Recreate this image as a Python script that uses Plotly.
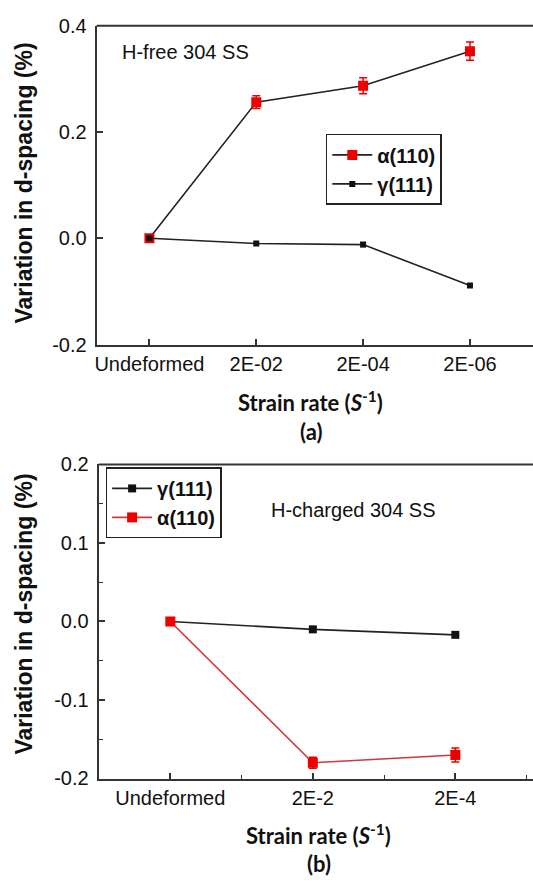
import plotly.graph_objects as go

# ---- data ----
cats_a = ["Undeformed", "2E-02", "2E-04", "2E-06"]
alpha_a = [0.0, 0.256, 0.287, 0.352]
alpha_a_err = [0.0, 0.012, 0.015, 0.017]
gamma_a = [0.0, -0.010, -0.012, -0.089]
gamma_a_err = [0.0, 0.0, 0.004, 0.0]

cats_b = ["Undeformed", "2E-2", "2E-4"]
gamma_b = [0.0, -0.010, -0.017]
alpha_b = [0.0, -0.180, -0.170]
alpha_b_err = [0.0, 0.007, 0.009]

W, H = 533, 888
RED = "#ee0000"
DARK = "#222222"
LINERED = "#cc3a3a"
SANS = "Arial"
TICKFONT = dict(family=SANS, size=20, color="#111")

xa = list(range(len(cats_a)))
xb = list(range(len(cats_b)))

fig = go.Figure()

# top panel
fig.add_trace(go.Scatter(
    x=xa, y=alpha_a, mode="lines+markers", name="<b>α(110)</b>",
    line=dict(color=DARK, width=1.6),
    marker=dict(symbol="square", size=10, color=RED),
    error_y=dict(type="data", array=alpha_a_err, color=RED, thickness=1.5, width=4),
    xaxis="x", yaxis="y", legend="legend", legendrank=1))
fig.add_trace(go.Scatter(
    x=xa, y=gamma_a, mode="lines+markers", name="<b>γ(111)</b>",
    line=dict(color=DARK, width=1.6),
    marker=dict(symbol="square", size=6, color="#111"),
    error_y=dict(type="data", array=gamma_a_err, color="#111", thickness=1.2, width=3),
    xaxis="x", yaxis="y", legend="legend", legendrank=2))

# bottom panel
fig.add_trace(go.Scatter(
    x=xb, y=gamma_b, mode="lines+markers", name="<b>γ(111)</b>",
    line=dict(color=DARK, width=1.6),
    marker=dict(symbol="square", size=8, color="#111"),
    xaxis="x2", yaxis="y2", legend="legend2"))
fig.add_trace(go.Scatter(
    x=xb, y=alpha_b, mode="lines+markers", name="<b>α(110)</b>",
    line=dict(color=LINERED, width=1.6),
    marker=dict(symbol="square", size=10, color=RED),
    error_y=dict(type="data", array=alpha_b_err, color=RED, thickness=1.5, width=4),
    xaxis="x2", yaxis="y2", legend="legend2"))

axis_common = dict(showline=True, linecolor="#333", linewidth=2, mirror=False,
                   ticks="inside", ticklen=6, tickwidth=1.5, tickcolor="#333",
                   showgrid=False, zeroline=False, tickfont=TICKFONT)

def ydom(top_px, bot_px):
    return [1 - bot_px / H, 1 - top_px / H]

LEGFONT = dict(family=SANS, size=20, color="#111")

fig.update_layout(
    width=W, height=H, margin=dict(l=0, r=0, t=0, b=0),
    paper_bgcolor="white", plot_bgcolor="white",
    xaxis=dict(domain=[95 / W, 1], range=[-0.494, 3.59], tickvals=xa, ticktext=cats_a,
               anchor="y", **axis_common),
    yaxis=dict(domain=ydom(15, 342), range=[-0.2, 0.4], tickvals=[-0.2, 0.0, 0.2, 0.4],
               ticktext=["-0.2", "0.0", "0.2", "0.4"], anchor="x",
               ticklabelstandoff=4, **axis_common),
    xaxis2=dict(domain=[97 / W, 1], range=[-0.503, 2.545], tickvals=xb, ticktext=cats_b,
                anchor="y2", minor=dict(ticks="inside", ticklen=4, dtick=0.5, tick0=0.5,
                                        tickcolor="#333", tickwidth=1.2),
                **axis_common),
    yaxis2=dict(domain=ydom(465, 787), range=[-0.2, 0.2],
                tickvals=[-0.2, -0.1, 0.0, 0.1, 0.2],
                ticktext=["-0.2", "-0.1", "0.0", "0.1", "0.2"], anchor="x2",
                ticklabelstandoff=4,
                minor=dict(ticks="inside", ticklen=4, dtick=0.05, tick0=0.05,
                           tickcolor="#333", tickwidth=1.2),
                **axis_common),
    legend=dict(x=325 / W, y=1 - 126 / H, xanchor="left", yanchor="top",
                bordercolor="#222", borderwidth=1.5, bgcolor="white",
                font=LEGFONT, tracegroupgap=0, itemwidth=40),
    legend2=dict(x=104 / W, y=1 - 468 / H, xanchor="left", yanchor="top",
                 bordercolor="#222", borderwidth=1.5, bgcolor="white",
                 font=LEGFONT, tracegroupgap=0, itemwidth=40),
    showlegend=True,
)

# top line (mirror only on top)
for xr, yr in (("x", "y"), ("x2", "y2")):
    fig.add_shape(type="line", xref=f"{xr} domain", yref=f"{yr} domain",
                  x0=0, x1=1, y0=1, y1=1, line=dict(color="#333", width=2))

TITLE_FONT = dict(family=SANS, size=23, color="#111")
XT_FONT = dict(family="Lato", size=22, color="#111")
LBL_FONT = dict(family="Lato", size=22, color="#111")

ann = []
ann.append(dict(text="<b>Variation in d-spacing (%)</b>", x=22 / W, y=1 - 176 / H,
                textangle=-90, font=TITLE_FONT))
ann.append(dict(text="<b>Variation in d-spacing (%)</b>", x=22 / W, y=1 - 618 / H,
                textangle=-90, font=TITLE_FONT))
ann.append(dict(text="<b>Strain rate (<i>S</i><sup>-1</sup>)</b>", x=310 / W, y=1 - 400 / H,
                font=XT_FONT))
ann.append(dict(text="<b>(a)</b>", x=310 / W, y=1 - 431 / H, font=LBL_FONT))
ann.append(dict(text="<b>Strain rate (<i>S</i><sup>-1</sup>)</b>", x=318 / W, y=1 - 844 / H,
                font=XT_FONT))
ann.append(dict(text="<b>(b)</b>", x=318 / W, y=1 - 874 / H, font=LBL_FONT))
ann.append(dict(text="H-free 304 SS", x=118 / W, y=1 - 42 / H, xanchor="left",
                font=dict(family=SANS, size=20, color="#111")))
ann.append(dict(text="H-charged 304 SS", x=353 / W, y=1 - 512 / H,
                font=dict(family=SANS, size=20, color="#111")))
for a in ann:
    a.setdefault("xanchor", "center")
    a.update(xref="paper", yref="paper", yanchor="middle", showarrow=False)
    fig.add_annotation(**a)

fig.write_html("out.html")
